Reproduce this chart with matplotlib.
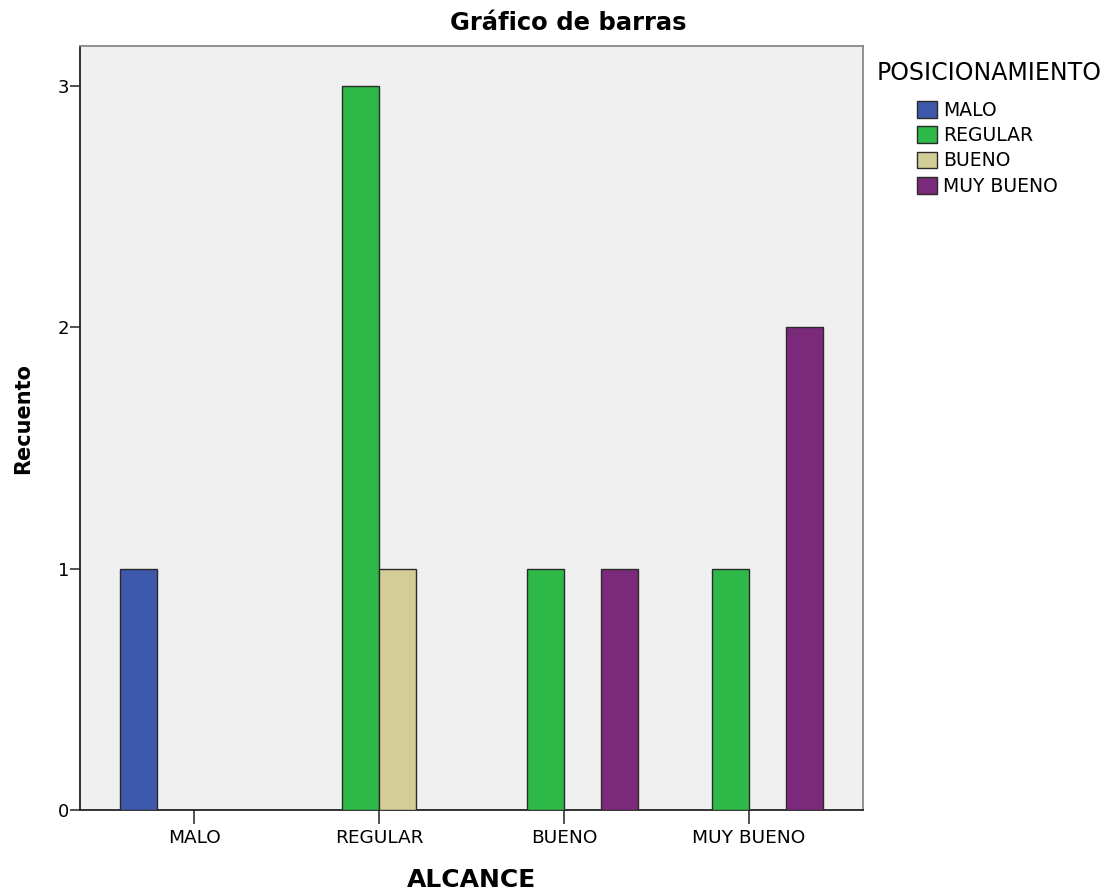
import matplotlib.pyplot as plt
import numpy as np

plt.rcParams['font.family'] = ['DejaVu Sans']

# datos del grafico
alcance = ['MALO', 'REGULAR', 'BUENO', 'MUY BUENO']
posicionamiento = ['MALO', 'REGULAR', 'BUENO', 'MUY BUENO']
recuento = {
    'MALO': [1, 0, 0, 0],
    'REGULAR': [0, 3, 1, 1],
    'BUENO': [0, 1, 0, 0],
    'MUY BUENO': [0, 0, 1, 2],
}
colores = ['#3E58AC', '#2EB848', '#D3CE97', '#7B2A7B']

fig = plt.figure(figsize=(11.07, 8.94), dpi=100)
ax = fig.add_axes([0.0723, 0.094, 0.7073, 0.8545])
ax.set_facecolor('#F0F0F0')

x = np.arange(len(alcance))
ancho = 0.2
for i, serie in enumerate(posicionamiento):
    vals = np.array(recuento[serie], dtype=float)
    pos = x + (i - 1.5) * ancho
    m = vals > 0
    ax.bar(pos[m], vals[m], width=ancho, color=colores[i],
           edgecolor='#2a2a2a', linewidth=1.0, zorder=3)
    # entrada de leyenda
    ax.bar([np.nan], [np.nan], width=ancho, color=colores[i],
           edgecolor='#2a2a2a', linewidth=1.0, label=serie)

ax.set_xlim(-0.616, 3.616)
ax.set_ylim(0, 3.166)
ax.set_xticks(x)
ax.set_xticklabels(alcance, fontsize=13.3)
ax.set_yticks([0, 1, 2, 3])
ax.set_yticklabels(['0', '1', '2', '3'], fontsize=13)
ax.tick_params(axis='x', length=10, width=1.2, color='#333333', pad=4)
ax.tick_params(axis='y', length=7, width=1.2, color='#333333', pad=1)

for s in ['left', 'bottom']:
    ax.spines[s].set_color('#222222')
    ax.spines[s].set_linewidth(1.3)
for s in ['top', 'right']:
    ax.spines[s].set_color('#888888')
    ax.spines[s].set_linewidth(1.3)

fig.text(0.513, 1 - 23 / 894, 'Gráfico de barras', fontsize=17.5, fontweight='bold',
         ha='center', va='center')
ax.set_xlabel('ALCANCE', fontsize=18, fontweight='bold', va='center', ha='center')
ax.xaxis.set_label_coords(0.5, -0.0916)
ax.set_ylabel('Recuento', fontsize=15, fontweight='bold', va='center', ha='center')
ax.yaxis.set_label_coords(-0.073, 0.512)

# leyenda
fig.text(877 / 1107, 1 - 73 / 894, 'POSICIONAMIENTO', fontsize=17,
         ha='left', va='center')
leg = fig.legend(loc='upper left', bbox_to_anchor=(917 / 1107, 1 - 101 / 894),
                 frameon=False, fontsize=13.5, handlelength=1.07,
                 handleheight=1.0, handletextpad=0.3, labelspacing=0.33,
                 borderaxespad=0, borderpad=0)

plt.savefig('out.png', dpi=100)
